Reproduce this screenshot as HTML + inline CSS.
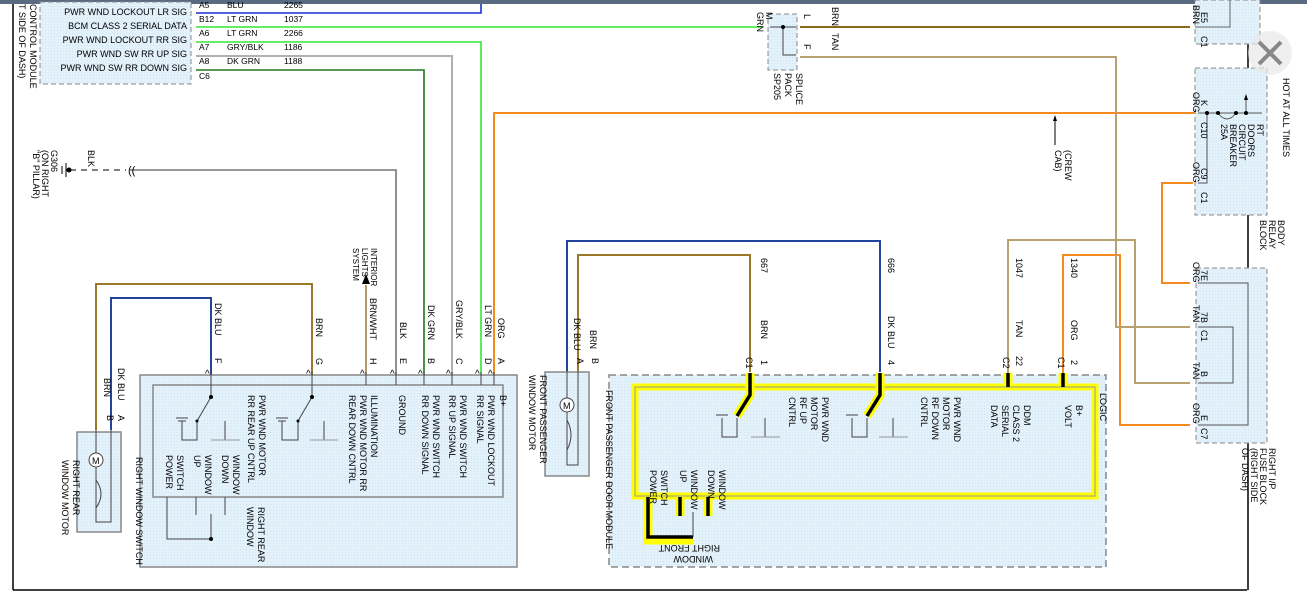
<!DOCTYPE html>
<html><head><meta charset="utf-8"><style>
html,body{margin:0;padding:0;background:#fff;}
svg{display:block;font-family:"Liberation Sans",sans-serif;font-size:9px;}
text{fill:#000;}
</style></head><body>
<svg width="1307" height="594" viewBox="0 0 1307 594" xmlns="http://www.w3.org/2000/svg">
<defs>
<pattern id="dots" width="3" height="3" patternUnits="userSpaceOnUse"><rect width="3" height="3" fill="#e3f1fa"/><rect width="1" height="1" fill="#cfe4f2"/></pattern>
</defs>
<rect width="1307" height="594" fill="#fff"/>
<rect x="0" y="0" width="1307" height="4" fill="#5a6a80"/>
<line x1="13" y1="4" x2="13" y2="590" stroke="#000" stroke-width="1.5"/>
<line x1="13" y1="590" x2="1247" y2="590" stroke="#000" stroke-width="1.5"/>
<line x1="1248" y1="4" x2="1248" y2="590" stroke="#000" stroke-width="1.5"/>

<rect x="40" y="2" width="151" height="82" fill="url(#dots)" stroke="#888" stroke-dasharray="5,3"/>
<g text-anchor="end">
<text x="187" y="15">PWR WND LOCKOUT LR SIG</text>
<text x="187" y="29">BCM CLASS 2 SERIAL DATA</text>
<text x="187" y="43">PWR WND LOCKOUT RR SIG</text>
<text x="187" y="57">PWR WND SW RR UP SIG</text>
<text x="187" y="71">PWR WND SW RR DOWN SIG</text>
</g>
<g transform="translate(30,4) rotate(90)"><text>CONTROL MODULE</text></g>
<g transform="translate(19,4) rotate(90)"><text>T SIDE OF DASH)</text></g>
<g font-size="8.5">
<text x="199" y="8">A5</text><text x="227" y="8">BLU</text><text x="284" y="8">2265</text>
<text x="199" y="22">B12</text><text x="227" y="22">LT GRN</text><text x="284" y="22">1037</text>
<text x="199" y="36">A6</text><text x="227" y="36">LT GRN</text><text x="284" y="36">2266</text>
<text x="199" y="50">A7</text><text x="227" y="50">GRY/BLK</text><text x="284" y="50">1186</text>
<text x="199" y="64">A8</text><text x="227" y="64">DK GRN</text><text x="284" y="64">1188</text>
<text x="199" y="79">C6</text>
</g>
<g fill="none" stroke-width="1.6">
<polyline points="196,13 481,13 481,4" stroke="#1a2fd0"/>
<polyline points="196,27 762,27" stroke="#33e633"/>
<polyline points="196,42 481,42 481,375" stroke="#33e633"/>
<polyline points="196,56 452,56 452,375" stroke="#b0b0b0" stroke-width="2"/>
<polyline points="196,70 424,70 424,375" stroke="#1e7a1e"/>
<polyline points="494,375 494,113 1200,113" stroke="#f58a1f" stroke-width="2"/>
<polyline points="130,170 396,170 396,375" stroke="#777"/>
<line x1="70" y1="170" x2="126" y2="170" stroke="#555" stroke-dasharray="6,5"/>
<polyline points="366,375 366,285" stroke="#a08040"/>
<polyline points="211,375 211,298 111,298 111,430" stroke="#23449a" stroke-width="2"/>
<polyline points="312,375 312,284 96,284 96,430" stroke="#9a7a2a" stroke-width="2"/>
<polyline points="567,372 567,241 880,241 880,372" stroke="#23449a" stroke-width="2"/>
<polyline points="578,372 578,255 750,255 750,372" stroke="#9a7a2a" stroke-width="2"/>
<polyline points="1008,375 1008,240 1135,240 1135,383 1190,383" stroke="#b8a070" stroke-width="2"/>
<polyline points="1063,375 1063,255 1120,255 1120,425 1190,425" stroke="#f58a1f" stroke-width="2"/>
<polyline points="800,57 1116,57 1116,327 1190,327" stroke="#b8a070" stroke-width="2"/>
<polyline points="1193,183 1162,183 1162,283 1190,283" stroke="#f58a1f" stroke-width="2"/>
<polyline points="800,27 1190,27" stroke="#8a6a1a" stroke-width="2"/>
</g>
<polygon points="366,274 362,284 370,284" fill="#000"/>
<g stroke="#000"><line x1="66" y1="163" x2="66" y2="177"/><line x1="62" y1="166" x2="62" y2="174"/></g>
<circle cx="69" cy="170" r="2.5" fill="#000"/>
<text x="128" y="174" font-size="11">((</text>
<g transform="translate(51,150) rotate(90)"><text>G306</text></g>
<g transform="translate(42,150) rotate(90)"><text>(ON RIGHT</text></g>
<g transform="translate(33,150) rotate(90)"><text>"B" PILLAR)</text></g>
<g transform="translate(88,150) rotate(90)"><text>BLK</text></g>
<g font-size="8">
<g transform="translate(371,248) rotate(90)"><text>INTERIOR</text></g>
<g transform="translate(362,248) rotate(90)"><text>LIGHTS</text></g>
<g transform="translate(353,248) rotate(90)"><text>SYSTEM</text></g>
</g>

<rect x="140" y="375" width="377" height="192" fill="url(#dots)" stroke="#888" stroke-width="1.5"/>
<rect x="153" y="385" width="350" height="112" fill="url(#dots)" stroke="#888" stroke-width="1.5"/>
<g stroke="#444" fill="none">
<line x1="211" y1="372" x2="211" y2="397"/><line x1="211" y1="397" x2="197" y2="421"/>
<polyline points="182,421 182,440 197,440 197,421"/>
<line x1="176" y1="418" x2="188" y2="418"/><line x1="178" y1="421" x2="186" y2="421"/>
<line x1="225" y1="421" x2="225" y2="440"/><line x1="211" y1="440" x2="240" y2="440" stroke="#999"/>
<line x1="312" y1="372" x2="312" y2="397"/><line x1="312" y1="397" x2="298" y2="421"/>
<polyline points="282,421 282,440 298,440 298,421"/>
<line x1="276" y1="418" x2="288" y2="418"/><line x1="278" y1="421" x2="286" y2="421"/>
<line x1="324" y1="421" x2="324" y2="440"/><line x1="310" y1="440" x2="338" y2="440" stroke="#999"/>
<line x1="366" y1="372" x2="366" y2="385"/><line x1="396" y1="372" x2="396" y2="385"/>
<line x1="424" y1="372" x2="424" y2="385"/><line x1="452" y1="372" x2="452" y2="385"/>
<line x1="481" y1="372" x2="481" y2="385"/><line x1="494" y1="372" x2="494" y2="385"/>
<polyline points="167,497 167,539 211,539 211,514"/>
<line x1="196" y1="497" x2="196" y2="515"/><line x1="225" y1="497" x2="225" y2="515"/>
</g>
<g fill="#000"><circle cx="211" cy="397" r="2"/><circle cx="312" cy="397" r="2"/><circle cx="211" cy="539" r="2"/><circle cx="197" cy="421" r="1.5"/><circle cx="298" cy="421" r="1.5"/></g>
<g font-size="10" fill="#333">
<text x="205" y="377">^</text><text x="306" y="377">^</text><text x="360" y="377">^</text><text x="390" y="377">^</text><text x="418" y="377">^</text><text x="446" y="377">^</text><text x="475" y="377">^</text><text x="488" y="377">^</text>
</g>
<g>
<g transform="translate(500,395) rotate(90)"><text>B+</text></g>
<g transform="translate(488,395) rotate(90)"><text>PWR WND LOCKOUT</text></g>
<g transform="translate(477,395) rotate(90)"><text>RR SIGNAL</text></g>
<g transform="translate(460,395) rotate(90)"><text>PWR WND SWITCH</text></g>
<g transform="translate(449,395) rotate(90)"><text>RR UP SIGNAL</text></g>
<g transform="translate(433,395) rotate(90)"><text>PWR WND SWITCH</text></g>
<g transform="translate(422,395) rotate(90)"><text>RR DOWN SIGNAL</text></g>
<g transform="translate(399,395) rotate(90)"><text>GROUND</text></g>
<g transform="translate(371,395) rotate(90)"><text>ILLUMINATION</text></g>
<g transform="translate(360,395) rotate(90)"><text>PWR WND MOTOR RR</text></g>
<g transform="translate(349,395) rotate(90)"><text>REAR DOWN CNTRL</text></g>
<g transform="translate(259,395) rotate(90)"><text>PWR WND MOTOR</text></g>
<g transform="translate(248,395) rotate(90)"><text>RR REAR UP CNTRL</text></g>
<g transform="translate(233,455) rotate(90)"><text>WINDOW</text></g>
<g transform="translate(222,455) rotate(90)"><text>DOWN</text></g>
<g transform="translate(205,455) rotate(90)"><text>WINDOW</text></g>
<g transform="translate(194,455) rotate(90)"><text>UP</text></g>
<g transform="translate(177,455) rotate(90)"><text>SWITCH</text></g>
<g transform="translate(166,455) rotate(90)"><text>POWER</text></g>
<g transform="translate(258,507) rotate(90)"><text>RIGHT REAR</text></g>
<g transform="translate(247,507) rotate(90)"><text>WINDOW</text></g>
<g transform="translate(136,457) rotate(90)"><text>RIGHT WINDOW SWITCH</text></g>
<g transform="translate(215,358) rotate(90)"><text>F</text></g>
<g transform="translate(316,358) rotate(90)"><text>G</text></g>
<g transform="translate(370,358) rotate(90)"><text>H</text></g>
<g transform="translate(400,358) rotate(90)"><text>E</text></g>
<g transform="translate(428,358) rotate(90)"><text>B</text></g>
<g transform="translate(456,358) rotate(90)"><text>C</text></g>
<g transform="translate(485,358) rotate(90)"><text>D</text></g>
<g transform="translate(498,358) rotate(90)"><text>A</text></g>
<g transform="translate(215,303) rotate(90)"><text>DK BLU</text></g>
<g transform="translate(316,318) rotate(90)"><text>BRN</text></g>
<g transform="translate(370,298) rotate(90)"><text>BRN/WHT</text></g>
<g transform="translate(400,322) rotate(90)"><text>BLK</text></g>
<g transform="translate(428,305) rotate(90)"><text>DK GRN</text></g>
<g transform="translate(456,300) rotate(90)"><text>GRY/BLK</text></g>
<g transform="translate(485,305) rotate(90)"><text>LT GRN</text></g>
<g transform="translate(498,318) rotate(90)"><text>ORG</text></g>
</g>

<rect x="77" y="432" width="44" height="100" fill="url(#dots)" stroke="#888" stroke-width="1.5"/>
<g stroke="#444" fill="none">
<polyline points="96,430 96,508"/><polyline points="111,430 111,522 96,522 96,508"/>
<path d="M96,480 Q106,494 96,508"/>
</g>
<circle cx="96" cy="460" r="7" fill="#fff" stroke="#444"/><text x="92" y="464" font-size="9">M</text>
<g transform="translate(118,415) rotate(90)"><text>A</text></g>
<g transform="translate(107,415) rotate(90)"><text>B</text></g>
<g transform="translate(118,368) rotate(90)"><text>DK BLU</text></g>
<g transform="translate(104,378) rotate(90)"><text>BRN</text></g>
<g transform="translate(73,460) rotate(90)"><text>RIGHT REAR</text></g>
<g transform="translate(62,460) rotate(90)"><text>WINDOW MOTOR</text></g>

<rect x="545" y="372" width="44" height="104" fill="url(#dots)" stroke="#888" stroke-width="1.5"/>
<g stroke="#444" fill="none"><polyline points="567,372 567,465 578,465 578,372"/><path d="M567,420 Q575,435 567,450"/></g>
<circle cx="567" cy="405" r="7" fill="#fff" stroke="#444"/><text x="563" y="409">M</text>
<g transform="translate(577,358) rotate(90)"><text>A</text></g>
<g transform="translate(592,358) rotate(90)"><text>B</text></g>
<g transform="translate(574,318) rotate(90)"><text>DK BLU</text></g>
<g transform="translate(590,330) rotate(90)"><text>BRN</text></g>
<g transform="translate(540,375) rotate(90)"><text>FRONT PASSENGER</text></g>
<g transform="translate(529,375) rotate(90)"><text>WINDOW MOTOR</text></g>

<rect x="609" y="375" width="497" height="192" fill="url(#dots)" stroke="#888" stroke-width="1.5" stroke-dasharray="7,4"/>
<rect x="635" y="387" width="460" height="109" fill="url(#dots)" stroke="#ffff00" stroke-width="7"/>
<rect x="635" y="387" width="460" height="109" fill="none" stroke="#999" stroke-width="1"/>
<g stroke="#ffff00" stroke-width="9" fill="none">
<polyline points="750,373 750,395 737,416"/><polyline points="880,373 880,395 867,416"/>
<line x1="1008" y1="373" x2="1008" y2="385"/><line x1="1063" y1="373" x2="1063" y2="385"/>
<polyline points="648,497 648,540 693,540"/><line x1="680" y1="497" x2="680" y2="516"/><line x1="708" y1="497" x2="708" y2="516"/>
</g>
<g stroke="#000" stroke-width="3.5" fill="none">
<polyline points="750,373 750,395 737,416"/><polyline points="880,373 880,395 867,416"/>
<line x1="1008" y1="373" x2="1008" y2="387"/><line x1="1063" y1="373" x2="1063" y2="387"/>
<polyline points="648,497 648,537 693,537"/><line x1="680" y1="497" x2="680" y2="516"/><line x1="708" y1="497" x2="708" y2="516"/>
</g>
<g stroke="#444" fill="none">
<polyline points="722,418 722,437 737,437 737,418"/><line x1="716" y1="415" x2="728" y2="415"/>
<line x1="765" y1="418" x2="765" y2="437"/><line x1="751" y1="437" x2="780" y2="437" stroke="#999"/>
<polyline points="852,418 852,437 867,437 867,418"/><line x1="846" y1="415" x2="858" y2="415"/>
<line x1="893" y1="418" x2="893" y2="437"/><line x1="879" y1="437" x2="908" y2="437" stroke="#999"/>
<line x1="693" y1="537" x2="693" y2="512"/>
</g>
<g transform="translate(1100,393) rotate(90)"><text>LOGIC</text></g>
<g transform="translate(1076,405) rotate(90)"><text>B+</text></g>
<g transform="translate(1065,405) rotate(90)"><text>VOLT</text></g>
<g transform="translate(1024,405) rotate(90)"><text>DDM</text></g>
<g transform="translate(1013,405) rotate(90)"><text>CLASS 2</text></g>
<g transform="translate(1002,405) rotate(90)"><text>SERIAL</text></g>
<g transform="translate(991,405) rotate(90)"><text>DATA</text></g>
<g transform="translate(954,397) rotate(90)"><text>PWR WND</text></g>
<g transform="translate(943,397) rotate(90)"><text>MOTOR</text></g>
<g transform="translate(932,397) rotate(90)"><text>RF DOWN</text></g>
<g transform="translate(921,397) rotate(90)"><text>CNTRL</text></g>
<g transform="translate(822,397) rotate(90)"><text>PWR WND</text></g>
<g transform="translate(811,397) rotate(90)"><text>MOTOR</text></g>
<g transform="translate(800,397) rotate(90)"><text>RF UP</text></g>
<g transform="translate(789,397) rotate(90)"><text>CNTRL</text></g>
<g transform="translate(719,470) rotate(90)"><text>WINDOW</text></g>
<g transform="translate(708,470) rotate(90)"><text>DOWN</text></g>
<g transform="translate(691,470) rotate(90)"><text>WINDOW</text></g>
<g transform="translate(680,470) rotate(90)"><text>UP</text></g>
<g transform="translate(661,470) rotate(90)"><text>SWITCH</text></g>
<g transform="translate(650,470) rotate(90)"><text>POWER</text></g>
<g transform="translate(720,545) rotate(180)"><text>RIGHT FRONT</text></g>
<g transform="translate(713,556) rotate(180)"><text>WINDOW</text></g>
<g transform="translate(606,390) rotate(90)"><text>FRONT PASSENGER DOOR MODULE</text></g>
<g transform="translate(761,258) rotate(90)"><text>667</text></g>
<g transform="translate(761,320) rotate(90)"><text>BRN</text></g>
<g transform="translate(761,360) rotate(90)"><text>1</text></g>
<g transform="translate(746,357) rotate(90)"><text>C1</text></g>
<g transform="translate(888,258) rotate(90)"><text>666</text></g>
<g transform="translate(888,316) rotate(90)"><text>DK BLU</text></g>
<g transform="translate(888,360) rotate(90)"><text>4</text></g>
<g transform="translate(1016,258) rotate(90)"><text>1047</text></g>
<g transform="translate(1016,320) rotate(90)"><text>TAN</text></g>
<g transform="translate(1016,356) rotate(90)"><text>22</text></g>
<g transform="translate(1003,357) rotate(90)"><text>C2</text></g>
<g transform="translate(1071,258) rotate(90)"><text>1340</text></g>
<g transform="translate(1071,320) rotate(90)"><text>ORG</text></g>
<g transform="translate(1071,360) rotate(90)"><text>2</text></g>
<g transform="translate(1058,357) rotate(90)"><text>C1</text></g>

<rect x="768" y="14" width="29" height="56" fill="url(#dots)" stroke="#888" stroke-dasharray="5,3"/>
<g stroke="#444" fill="none"><line x1="770" y1="27" x2="796" y2="27"/><polyline points="783,27 783,55 796,55"/></g>
<circle cx="783" cy="27" r="2" fill="#000"/>
<g transform="translate(766,12) rotate(90)"><text>M</text></g>
<g transform="translate(757,12) rotate(90)"><text>GRN</text></g>
<g transform="translate(804,14) rotate(90)"><text>L</text></g>
<g transform="translate(804,44) rotate(90)"><text>F</text></g>
<g transform="translate(796,73) rotate(90)"><text>SPLICE</text></g>
<g transform="translate(785,73) rotate(90)"><text>PACK</text></g>
<g transform="translate(774,73) rotate(90)"><text>SP205</text></g>
<g transform="translate(832,7) rotate(90)"><text>BRN</text></g>
<g transform="translate(832,33) rotate(90)"><text>TAN</text></g>
<line x1="1055" y1="118" x2="1055" y2="145" stroke="#000"/><polygon points="1055,115 1053,121 1057,121" fill="#000"/>
<g transform="translate(1065,150) rotate(90)"><text>(CREW</text></g>
<g transform="translate(1055,150) rotate(90)"><text>CAB)</text></g>

<rect x="1195" y="0" width="65" height="44" fill="url(#dots)" stroke="#888" stroke-dasharray="5,3"/>
<polyline points="1195,27 1230,27 1230,0" stroke="#666" fill="none"/>
<g transform="translate(1193,5) rotate(90)"><text>BRN</text></g>
<g transform="translate(1201,12) rotate(90)"><text>E5</text></g>
<g transform="translate(1201,36) rotate(90)"><text>C1</text></g>

<rect x="1195" y="68" width="72" height="147" fill="url(#dots)" stroke="#888" stroke-dasharray="5,3"/>
<g stroke="#555" fill="none"><line x1="1198" y1="113" x2="1262" y2="113"/><polyline points="1207,113 1207,183 1198,183"/><path d="M1218,113 Q1227,125 1236,113"/><line x1="1246" y1="113" x2="1246" y2="97"/></g>
<polygon points="1246,94 1244,100 1248,100" fill="#000"/>
<g fill="#000"><circle cx="1207" cy="113" r="2"/><circle cx="1218" cy="113" r="2"/><circle cx="1236" cy="113" r="2"/><circle cx="1246" cy="113" r="2"/></g>
<g transform="translate(1193,92) rotate(90)"><text>ORG</text></g>
<g transform="translate(1201,100) rotate(90)"><text>K</text></g>
<g transform="translate(1201,122) rotate(90)"><text>C10</text></g>
<g transform="translate(1193,162) rotate(90)"><text>ORG</text></g>
<g transform="translate(1201,168) rotate(90)"><text>C9</text></g>
<g transform="translate(1201,192) rotate(90)"><text>C1</text></g>
<g transform="translate(1257,124) rotate(90)"><text>RT</text></g>
<g transform="translate(1248,124) rotate(90)"><text>DOORS</text></g>
<g transform="translate(1239,124) rotate(90)"><text>CIRCUIT</text></g>
<g transform="translate(1230,124) rotate(90)"><text>BREAKER</text></g>
<g transform="translate(1221,124) rotate(90)"><text>25A</text></g>
<g transform="translate(1283,78) rotate(90)"><text>HOT AT ALL TIMES</text></g>
<g transform="translate(1278,220) rotate(90)"><text>BODY</text></g>
<g transform="translate(1269,220) rotate(90)"><text>RELAY</text></g>
<g transform="translate(1260,220) rotate(90)"><text>BLOCK</text></g>

<rect x="1196" y="268" width="71" height="175" fill="url(#dots)" stroke="#888" stroke-dasharray="5,3"/>
<g stroke="#555" fill="none"><polyline points="1198,283 1248,283 1248,425 1198,425"/><polyline points="1198,327 1233,327 1233,383 1198,383"/></g>
<g transform="translate(1193,262) rotate(90)"><text>ORG</text></g>
<g transform="translate(1193,305) rotate(90)"><text>TAN</text></g>
<g transform="translate(1193,362) rotate(90)"><text>TAN</text></g>
<g transform="translate(1193,403) rotate(90)"><text>ORG</text></g>
<g transform="translate(1201,270) rotate(90)"><text>7E</text></g>
<g transform="translate(1201,312) rotate(90)"><text>7B</text></g>
<g transform="translate(1201,330) rotate(90)"><text>C1</text></g>
<g transform="translate(1201,371) rotate(90)"><text>B</text></g>
<g transform="translate(1201,415) rotate(90)"><text>E</text></g>
<g transform="translate(1201,428) rotate(90)"><text>C7</text></g>
<g transform="translate(1269,448) rotate(90)"><text>RIGHT I/P</text></g>
<g transform="translate(1260,448) rotate(90)"><text>FUSE BLOCK</text></g>
<g transform="translate(1251,448) rotate(90)"><text>(RIGHT SIDE</text></g>
<g transform="translate(1242,448) rotate(90)"><text>OF DASH)</text></g>

<circle cx="1270" cy="53" r="22" fill="#e8e8e8" opacity="0.7"/>
<g stroke="#888" stroke-width="4"><line x1="1259" y1="42" x2="1281" y2="64"/><line x1="1281" y1="42" x2="1259" y2="64"/></g>
</svg>
</body></html>
